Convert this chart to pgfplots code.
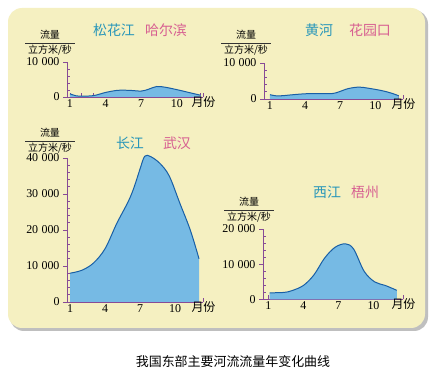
\documentclass[border=0pt]{standalone}
\usepackage{pgfplots}
\pgfplotsset{compat=1.18}
\usepackage{fontspec}
\setmainfont{Liberation Serif}
\newfontfamily\cjk{Noto Sans CJK SC}
\definecolor{panel}{RGB}{245,240,193}
\definecolor{axcol}{RGB}{135,75,150}
\definecolor{fillc}{RGB}{118,186,228}
\definecolor{linec}{RGB}{25,95,165}
\definecolor{rivc}{RGB}{40,150,185}
\definecolor{cityc}{RGB}{215,95,145}
\pgfplotsset{
  riv/.style={
    scale only axis, anchor=south west,
    axis x line=bottom, axis y line=left,
    axis line style={-, draw=axcol, line width=0.9pt},
    ymin=0,
    scaled y ticks=false, scaled x ticks=false,
    xtick={1,...,12}, xticklabels={1,,,4,,,7,,,10,,},
    minor x tick num=0,
    minor y tick num=4,
    xtick align=inside,
    ytick align=outside,
    major tick length=4bp, minor tick length=3bp,
    every tick/.style={axcol, line width=0.7pt},
    minor y tick style={xshift=3bp},
    tick label style={font=\fontsize{12}{13}\selectfont},
    xticklabel style={yshift=1bp},
    clip=false,
  },
  fillp/.style={draw=none, fill=fillc, smooth, tension=0.55},
  linep/.style={linec, line width=1pt, smooth, tension=0.55},
}
\newcommand{\ylab}[2]{%
  \node[font=\cjk\fontsize{10}{10}\selectfont] at (#1,#2+8) {流量};
  \draw[black!80, line width=0.5pt] (#1-25,#2) -- (#1+25,#2);
  \node[font=\cjk\fontsize{10}{10}\selectfont] at (#1,#2-7) {立方米/秒};
}
\newcommand{\yue}{\node[anchor=mid west, font=\cjk\fontsize{12}{12}\selectfont] at (rel axis cs:1,0) [xshift=-15bp, yshift=-7bp] {月份};}
\begin{document}
\begin{tikzpicture}[x=1bp,y=1bp]
\useasboundingbox (0,0) rectangle (432,374);
\fill[white] (0,0) rectangle (432,374);
\fill[black!25, rounded corners=14bp] (10,43) rectangle (428,364);
\fill[panel, rounded corners=14bp] (8,46) rectangle (425,366);

% Songhua / Harbin
\begin{axis}[riv, at={(67bp,277bp)}, width=136bp, height=35bp,
  xmin=0.75, xmax=12.2, ymax=10000,
  extra x ticks={12.2}, extra x tick labels={},
  ytick={0,10000}, yticklabels={0,10\;000}]
\addplot[fillp] coordinates {(1,900) (1.5,350) (2,250) (3,400) (4,1300) (5,1900) (6,1900) (7,1700) (7.6,2200) (8.3,3000) (9,2800) (10,2100) (11,1300) (12,500)} \closedcycle;
\addplot[linep] coordinates {(1,900) (1.5,350) (2,250) (3,400) (4,1300) (5,1900) (6,1900) (7,1700) (7.6,2200) (8.3,3000) (9,2800) (10,2100) (11,1300) (12,500)};
\yue
\end{axis}

% Yellow / Huayuankou
\begin{axis}[riv, at={(264bp,275bp)}, width=139bp, height=36bp,
  xmin=0.49, xmax=12.37, ymax=10000,
  extra x ticks={12.37}, extra x tick labels={},
  ytick={0,10000}, yticklabels={0,10\;000}]
\addplot[fillp] coordinates {(1,1200) (1.7,850) (3,1200) (4,1450) (5,1500) (6.3,1500) (6.9,2000) (7.7,2900) (8.6,3300) (9.4,3000) (10.6,2300) (11.4,1600) (12,900)} \closedcycle;
\addplot[linep] coordinates {(1,1200) (1.7,850) (3,1200) (4,1450) (5,1500) (6.3,1500) (6.9,2000) (7.7,2900) (8.6,3300) (9.4,3000) (10.6,2300) (11.4,1600) (12,900)};
\yue
\end{axis}

% Changjiang / Wuhan
\begin{axis}[riv, at={(67bp,72bp)}, width=136bp, height=144bp,
  xmin=0.74, xmax=12.39, ymax=40000,
  extra x ticks={12.39}, extra x tick labels={},
  ytick={0,10000,20000,30000,40000}, yticklabels={0,10\;000,20\;000,30\;000,40\;000}]
\addplot[fillp] coordinates {(1,8000) (2,8800) (3,10800) (4,14800) (5,21800) (6,28000) (6.5,32000) (7,37000) (7.4,40500) (7.9,40400) (8.7,38500) (9.5,35000) (10.4,27500) (11.3,20000) (12.05,12000)} \closedcycle;
\addplot[linep] coordinates {(1,8000) (2,8800) (3,10800) (4,14800) (5,21800) (6,28000) (6.5,32000) (7,37000) (7.4,40500) (7.9,40400) (8.7,38500) (9.5,35000) (10.4,27500) (11.3,20000) (12.05,12000)};
\yue
\end{axis}

% Xijiang / Wuzhou
\begin{axis}[riv, at={(263bp,74.5bp)}, width=140bp, height=70.5bp,
  xmin=0.53, xmax=12.53, ymax=20000,
  extra x ticks={12.53}, extra x tick labels={},
  ytick={0,10000,20000}, yticklabels={0,10\;000,20\;000}]
\addplot[fillp] coordinates {(1.1,1900) (2.3,2000) (3,2500) (4,4000) (4.9,7000) (5.8,11700) (6.7,14800) (7.6,15800) (8.3,14300) (9.2,8000) (10.1,5000) (11,4000) (12,2600)} \closedcycle;
\addplot[linep] coordinates {(1.1,1900) (2.3,2000) (3,2500) (4,4000) (4.9,7000) (5.8,11700) (6.7,14800) (7.6,15800) (8.3,14300) (9.2,8000) (10.1,5000) (11,4000) (12,2600)};
\yue
\end{axis}

% titles
\begin{scope}[every node/.style={font=\cjk\fontsize{14}{14}\selectfont}]
\node[text=rivc] at (114,344) {松花江};
\node[text=cityc] at (166,344) {哈尔滨};
\node[text=rivc] at (319,344) {黄河};
\node[text=cityc] at (370,344) {花园口};
\node[text=rivc] at (130,231) {长江};
\node[text=cityc] at (177,231) {武汉};
\node[text=rivc] at (327,182) {西江};
\node[text=cityc] at (365,182) {梧州};
\end{scope}

% y labels
\ylab{50}{331}
\ylab{246}{331}
\ylab{50}{233}
\ylab{249}{164}

\node[font=\cjk\fontsize{13}{13}\selectfont] at (233,12) {我国东部主要河流流量年变化曲线};
\end{tikzpicture}
\end{document}
